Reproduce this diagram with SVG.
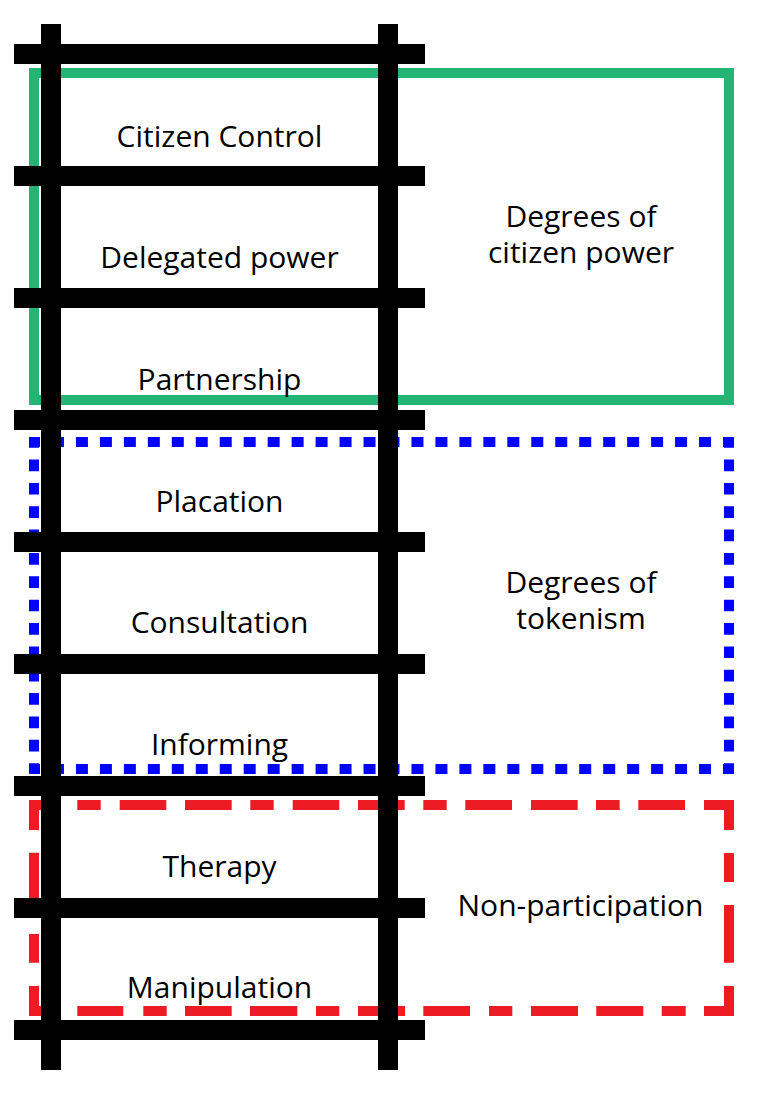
<svg xmlns="http://www.w3.org/2000/svg" width="768" height="1104" viewBox="0 0 768 1104">
  <style>
    .lbl { font-family: "Open Sans", "Noto Sans", "Liberation Sans", sans-serif; font-size: 30px; fill: #000; text-anchor: middle; }
    .green { fill: none; stroke: #22B573; stroke-width: 10; stroke-linejoin: miter; }
    .red { fill: none; stroke: #ED1C24; stroke-width: 10; stroke-linejoin: miter; stroke-linecap: butt; }
    .blueh { fill: none; stroke: #0000FF; stroke-width: 10; stroke-dasharray: 11.983 11.983; stroke-dashoffset: 0.99; }
    .bluev { fill: none; stroke: #0000FF; stroke-width: 10; stroke-dasharray: 11.679 11.679; stroke-dashoffset: 5.84; }
    .bar { fill: #000; }
  </style>
  <rect width="768" height="1104" fill="#fff"/>

  <g id="group-citizen-power">
    <rect class="green" x="34" y="73" width="695" height="327"/>
    <text class="lbl" x="581" y="227.3"><tspan x="581" y="227.3">Degrees of</tspan><tspan x="581" y="263.3">citizen power</tspan></text>
  </g>

  <g id="group-tokenism">
    <line class="blueh" x1="29" y1="442" x2="734" y2="442"/>
    <line class="blueh" x1="29" y1="769" x2="734" y2="769"/>
    <line class="bluev" x1="34" y1="442" x2="34" y2="769"/>
    <line class="bluev" x1="729" y1="442" x2="729" y2="769"/>
    <text class="lbl" x="581" y="593.3"><tspan x="581" y="593.3">Degrees of</tspan><tspan x="581" y="629.3">tokenism</tspan></text>
  </g>

  <g id="group-non-participation">
    <path class="red" d="M34,830 V805 H58.4
      M77.3,805 H100.7 M119.7,805 H166.3 M185,805 H231.7 M250.3,805 H273.7 M292.7,805 H339.3 M358,805 H404.7
      M423.3,805 H446.7 M465.3,805 H512 M531,805 H577.7 M596,805 H619.7 M638.3,805 H685
      M704,805 H729 V830
      M729,853 V882 M729,905 V962.7
      M729,986 V1011 H704
      M685.7,1011 H661.7 M643.3,1011 H596.3 M578,1011 H531 M512.3,1011 H489 M470,1011 H423.3 M405,1011 H358
      M339.3,1011 H316 M297.3,1011 H250 M231.7,1011 H185 M166.7,1011 H143.3 M123.3,1011 H77.3
      M58.4,1011 H34 V986
      M34,962.7 V934 M34,911 V852.7"/>
    <text class="lbl" x="580.5" y="916">Non-participation</text>
  </g>

  <g id="ladder">
    <rect class="bar" x="41" y="24" width="20" height="1046"/>
    <rect class="bar" x="378" y="24" width="20" height="1046"/>
    <rect class="bar" x="14" y="44" width="411" height="20"/>
    <rect class="bar" x="14" y="166" width="411" height="20"/>
    <rect class="bar" x="14" y="288" width="411" height="20"/>
    <rect class="bar" x="14" y="410" width="411" height="20"/>
    <rect class="bar" x="14" y="532" width="411" height="20"/>
    <rect class="bar" x="14" y="654" width="411" height="20"/>
    <rect class="bar" x="14" y="776" width="411" height="20"/>
    <rect class="bar" x="14" y="898" width="411" height="20"/>
    <rect class="bar" x="14" y="1020" width="411" height="20"/>
  </g>

  <g id="rung-citizen-control"><text class="lbl" x="219.5" y="146.7">Citizen Control</text></g>
  <g id="rung-delegated-power"><text class="lbl" x="219.5" y="268.3">Delegated power</text></g>
  <g id="rung-partnership"><text class="lbl" x="219.5" y="390">Partnership</text></g>
  <g id="rung-placation"><text class="lbl" x="219.5" y="511.7">Placation</text></g>
  <g id="rung-consultation"><text class="lbl" x="219.5" y="633.3">Consultation</text></g>
  <g id="rung-informing"><text class="lbl" x="219.5" y="755">Informing</text></g>
  <g id="rung-therapy"><text class="lbl" x="219.5" y="876.7">Therapy</text></g>
  <g id="rung-manipulation"><text class="lbl" x="219.5" y="998.3">Manipulation</text></g>

  <g id="connectors"></g>
</svg>
